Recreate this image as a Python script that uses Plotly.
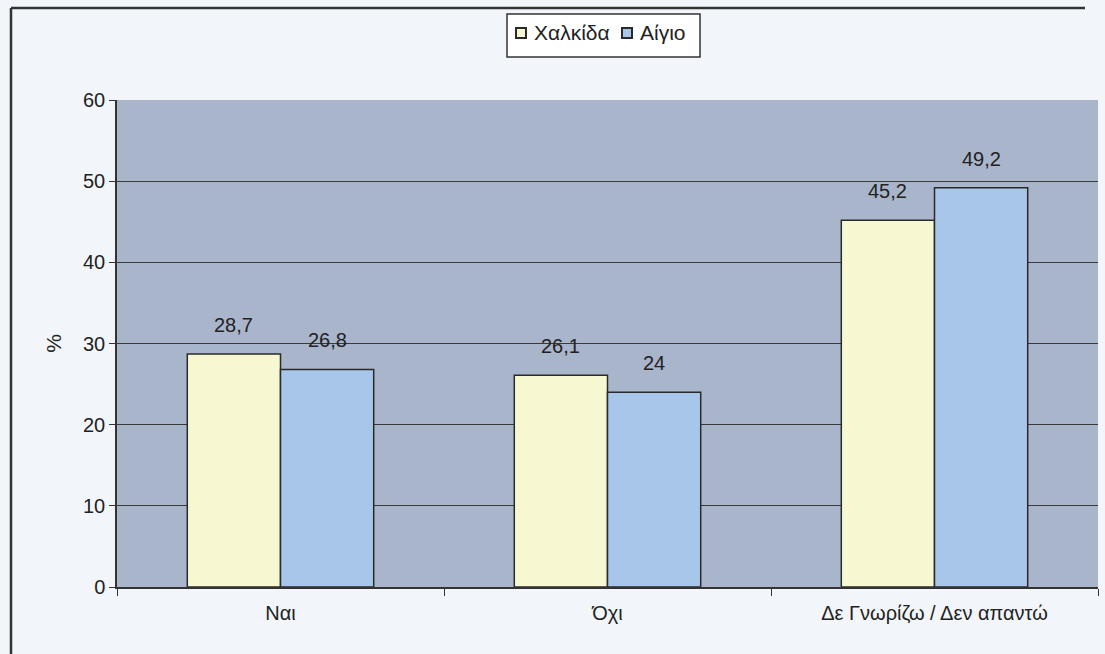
import plotly.graph_objects as go

categories = ["Ναι", "Όχι", "Δε Γνωρίζω / Δεν απαντώ"]
series_names = ["Χαλκίδα", "Αίγιο"]
chalkida = [28.7, 26.1, 45.2]
aigio = [26.8, 24, 49.2]
y_ticks = [0, 10, 20, 30, 40, 50, 60]

W, H = 1105, 654
L, R, T, B = 117, 7, 100, 67
pw = W - L - R
ph = H - T - B
BARGAP = 0.43
bar_px = pw / len(categories) * (1 - BARGAP) / 2

FONT = "Liberation Sans, Arial, sans-serif"
TXT = "#222"
EDGE = "#2a2a2a"
COLORS = ["#F7F8D2", "#A8C6EA"]


def fmt(v):
    return f"{v:g}".replace(".", ",")


def px_x(p):
    return (p - L) / pw


def px_y(p):
    return 1 - (p - T) / ph


fig = go.Figure()
for name, vals, col in zip(series_names, (chalkida, aigio), COLORS):
    fig.add_trace(go.Bar(
        x=categories, y=vals, name=name,
        marker=dict(color=col, line=dict(color=EDGE, width=1.5)),
    ))

# value labels above each bar
for vals, shift in ((chalkida, -bar_px / 2), (aigio, bar_px / 2)):
    for c, v in zip(categories, vals):
        fig.add_annotation(x=c, y=v, text=fmt(v), showarrow=False,
                           xshift=shift, yshift=16, yanchor="bottom",
                           font=dict(size=20, color=TXT, family=FONT))

# outer frame (left and top edges)
fig.add_shape(type="line", xref="paper", yref="paper", x0=px_x(11), x1=px_x(11),
              y0=px_y(660), y1=px_y(8), line=dict(color="#333", width=2.5))
fig.add_shape(type="line", xref="paper", yref="paper", x0=px_x(11), x1=px_x(1085),
              y0=px_y(8), y1=px_y(8), line=dict(color="#333", width=2.5))

# legend box with square swatches
fig.add_shape(type="rect", xref="paper", yref="paper",
              x0=px_x(507), x1=px_x(700), y0=px_y(57), y1=px_y(14),
              fillcolor="#FFFFFF", line=dict(color="#333", width=1.5))
legend_items = [(516, 532), (622, 638)]
for (sx, tx), name, col in zip(legend_items, series_names, COLORS):
    fig.add_shape(type="rect", xref="paper", yref="paper",
                  x0=px_x(sx), x1=px_x(sx + 10), y0=px_y(38), y1=px_y(28),
                  fillcolor=col, line=dict(color=EDGE, width=2))
    fig.add_annotation(xref="paper", yref="paper", x=px_x(tx), y=px_y(33),
                       text=name, showarrow=False, xanchor="left", yanchor="middle",
                       font=dict(size=21, color=TXT, family=FONT))

fig.update_layout(
    width=W, height=H,
    margin=dict(l=L, r=R, t=T, b=B),
    paper_bgcolor="#F2F6FB",
    plot_bgcolor="#A9B5CB",
    barmode="group",
    bargap=BARGAP,
    bargroupgap=0,
    font=dict(family=FONT, size=20, color=TXT),
    showlegend=False,
    xaxis=dict(
        showline=True, linecolor="#333", linewidth=1.5,
        ticks="outside", tickson="boundaries", ticklen=7, tickcolor="#333",
        tickfont=dict(size=20, color=TXT),
        ticklabelstandoff=7,
    ),
    yaxis=dict(
        range=[0, 60], tickvals=y_ticks,
        showgrid=True, gridcolor="#3a3a3a", gridwidth=1,
        showline=True, linecolor="#333", linewidth=1.5,
        ticks="outside", ticklen=6, tickcolor="#333",
        tickfont=dict(size=20, color=TXT),
        title=dict(text="%", font=dict(size=21, color=TXT), standoff=16),
        zeroline=False,
    ),
)

fig.write_html("out.html")
